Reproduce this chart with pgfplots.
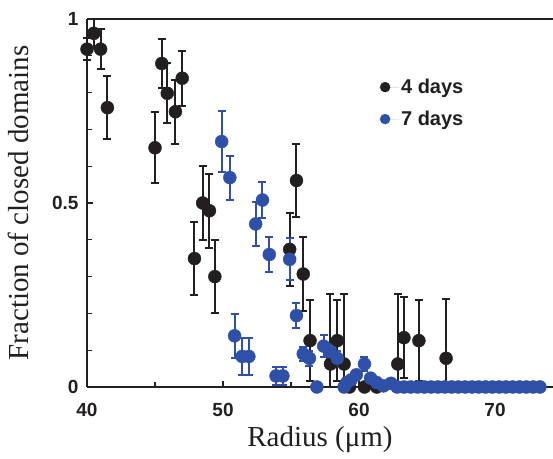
\documentclass[border=0pt]{standalone}
\usepackage{pgfplots}
\pgfplotsset{compat=1.18}
\usepackage{pgfplotstable}
\usepackage{fontspec}
\setmainfont{Liberation Serif}
\setsansfont{Liberation Sans}
\definecolor{dk}{RGB}{35,31,32}
\definecolor{bl}{RGB}{46,80,168}

% 4 days: x, y, error plus, error minus
\pgfplotstableread{
x y ep em
40.0 0.918 0.03 0.03
40.5 0.961 0.04 0.04
41.0 0.918 0.055 0.055
41.5 0.759 0.086 0.086
45.0 0.650 0.096 0.096
45.5 0.879 0.067 0.067
45.9 0.798 0.082 0.082
46.5 0.748 0.087 0.087
47.0 0.839 0.075 0.075
47.9 0.349 0.10 0.10
48.5 0.500 0.10 0.10
49.0 0.479 0.10 0.10
49.4 0.300 0.10 0.10
54.9 0.374 0.10 0.10
55.4 0.561 0.10 0.10
55.9 0.307 0.10 0.10
56.4 0.126 0.11 0.11
57.9 0.0625 0.19 0.0625
58.4 0.126 0.11 0.11
58.9 0.0625 0.19 0.0625
59.3 0 0 0
60.4 0 0 0
61.3 0 0 0
62.85 0.0625 0.19 0.0625
63.3 0.134 0.11 0.11
64.4 0.126 0.11 0.11
66.4 0.078 0.16 0.078
}\fourdays

% 7 days: x, y, error
\pgfplotstableread{
x y e
49.9 0.667 0.083
50.5 0.569 0.06
50.85 0.139 0.06
51.4 0.083 0.05
51.9 0.083 0.05
52.4 0.443 0.06
52.9 0.508 0.05
53.4 0.360 0.047
53.9 0.03 0.025
54.4 0.03 0.025
54.9 0.347 0.057
55.4 0.194 0.035
55.9 0.090 0.02
56.35 0.078 0.02
56.9 0 0
57.4 0.111 0.03
57.9 0.096 0.02
58.4 0.078 0.02
58.9 0 0
59.1 0.012 0
59.4 0.019 0
59.8 0.033 0
60.4 0.0625 0.018
60.85 0.024 0
61.3 0.012 0
61.8 0.003 0
62.35 0.01 0
62.8 0 0
63.3 0 0
63.8 0 0
64.3 0 0
64.8 0 0
65.3 0 0
65.8 0 0
66.3 0 0
66.8 0 0
67.3 0 0
67.8 0 0
68.3 0 0
68.8 0 0
69.3 0 0
69.8 0 0
70.3 0 0
70.8 0 0
71.3 0 0
71.8 0 0
72.3 0 0
72.8 0 0
73.3 0 0
}\sevendays

\begin{document}
\begin{tikzpicture}
\begin{axis}[
  width=466pt, height=368pt, scale only axis,
  xmin=40, xmax=74.26, ymin=0, ymax=1,
  axis x line*=bottom, axis y line*=left,
  axis line style={line width=1.8pt, color=dk},
  clip=false,
  tick align=inside,
  major tick length=6pt, minor tick length=5pt,
  every tick/.style={line width=1.3pt, color=dk},
  xtick={40,50,60,70}, minor xtick={45,55,65},
  ytick={0,0.5,1}, yticklabels={0,0.5,1},
  minor ytick={0.1,0.2,0.3,0.4,0.6,0.7,0.8,0.9},
  tick label style={font=\sffamily\bfseries\fontsize{19}{22}\selectfont, color=dk},
  /pgf/number format/assume math mode=true,
  xticklabel style={yshift=-13pt},
  yticklabel style={xshift=-5pt},
  xlabel={Radius (μm)},
  ylabel={Fraction of closed domains},
  label style={font=\fontsize{29}{32}\selectfont, color=dk},
  xlabel style={at={(axis description cs:0.5,-0.144)}, anchor=center},
  ylabel style={at={(axis description cs:-0.148,0.5)}, anchor=center, rotate=0},
  legend style={draw=none, fill=none, at={(axis description cs:0.62,0.848)}, anchor=north west,
    font=\sffamily\bfseries\fontsize{20}{22}\selectfont, row sep=12pt, text=dk},
  legend cell align=left,
  legend image code/.code={\path[draw=none] (-6pt,0pt) -- (14pt,0pt);\draw[#1, mark size=5pt] plot coordinates {(0pt,0pt)};},
]
\draw[line width=1.8pt, color=dk] (rel axis cs:0,1) -- (rel axis cs:1,1);
\addplot[only marks, mark=*, mark size=6.5pt, color=dk, fill=dk,
  error bars/.cd, y dir=both, y explicit,
  error bar style={line width=2pt, color=dk},
  error mark options={rotate=90, mark size=4pt, line width=2pt, color=dk}]
  table[x=x, y=y, y error plus=ep, y error minus=em] {\fourdays};
\addlegendentry{4 days}
\addplot[only marks, mark=*, mark size=6.5pt, color=bl, fill=bl,
  error bars/.cd, y dir=both, y explicit,
  error bar style={line width=2pt, color=bl},
  error mark options={rotate=90, mark size=4pt, line width=2pt, color=bl}]
  table[x=x, y=y, y error=e] {\sevendays};
\addlegendentry{7 days}
\coordinate (bl) at (rel axis cs:-0.1867,-0.193);
\coordinate (tr) at (rel axis cs:1,1.0516);
\end{axis}
\pgfresetboundingbox
\path (bl) rectangle (tr);
\end{tikzpicture}
\end{document}
